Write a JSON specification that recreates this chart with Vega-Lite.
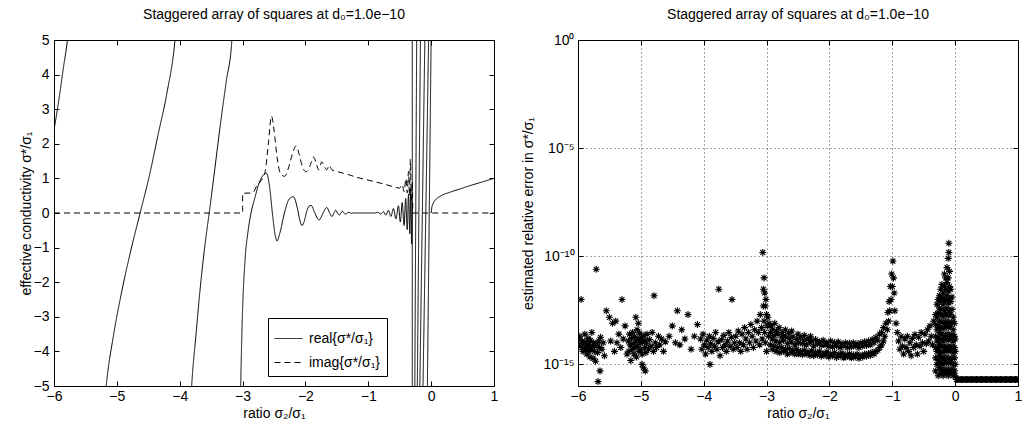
{
"$schema": "https://vega.github.io/schema/vega-lite/v6.json",
"background": "white",
"padding": {"left": 18, "top": 7, "right": 0, "bottom": 0},
"spacing": 22,
"config": {
  "font": "Liberation Sans",
  "view": {"stroke": "black", "strokeWidth": 1},
  "axis": {"labelFont": "Liberation Sans", "labelFontSize": 14, "labelColor": "black", "titleFont": "Liberation Sans", "titleFontSize": 14, "titleFontWeight": "normal", "titleColor": "black", "domain": false, "tickColor": "black", "tickSize": -5, "grid": false, "labelFlush": false, "labelOverlap": false},
  "title": {"font": "Liberation Sans", "fontSize": 14, "fontWeight": "normal", "color": "black", "offset": 11, "anchor": "middle"}
},
"datasets": {
  "curves": [
    {"r":-6,"v":2.4,"p":"real{σ*/σ₁}","b":"A"},{"r":-5.95,"v":2.95,"p":"real{σ*/σ₁}","b":"A"},{"r":-5.9,"v":3.55,"p":"real{σ*/σ₁}","b":"A"},{"r":-5.85,"v":4.2,"p":"real{σ*/σ₁}","b":"A"},{"r":-5.8,"v":4.8,"p":"real{σ*/σ₁}","b":"A"},{"r":-5.76,"v":5.4,"p":"real{σ*/σ₁}","b":"A"},
    {"r":-5.22,"v":-6,"p":"real{σ*/σ₁}","b":"B"},{"r":-5.17,"v":-5,"p":"real{σ*/σ₁}","b":"B"},{"r":-5.05,"v":-3.5,"p":"real{σ*/σ₁}","b":"B"},{"r":-4.92,"v":-2.25,"p":"real{σ*/σ₁}","b":"B"},{"r":-4.78,"v":-1.1,"p":"real{σ*/σ₁}","b":"B"},{"r":-4.63,"v":0,"p":"real{σ*/σ₁}","b":"B"},{"r":-4.48,"v":1.1,"p":"real{σ*/σ₁}","b":"B"},{"r":-4.34,"v":2.3,"p":"real{σ*/σ₁}","b":"B"},{"r":-4.2,"v":3.5,"p":"real{σ*/σ₁}","b":"B"},{"r":-4.075,"v":5,"p":"real{σ*/σ₁}","b":"B"},{"r":-4.03,"v":6,"p":"real{σ*/σ₁}","b":"B"},
    {"r":-3.84,"v":-6,"p":"real{σ*/σ₁}","b":"C"},{"r":-3.81,"v":-5,"p":"real{σ*/σ₁}","b":"C"},{"r":-3.74,"v":-3.5,"p":"real{σ*/σ₁}","b":"C"},{"r":-3.67,"v":-2.1,"p":"real{σ*/σ₁}","b":"C"},{"r":-3.6,"v":-0.95,"p":"real{σ*/σ₁}","b":"C"},{"r":-3.52,"v":0.15,"p":"real{σ*/σ₁}","b":"C"},{"r":-3.44,"v":1.3,"p":"real{σ*/σ₁}","b":"C"},{"r":-3.35,"v":2.6,"p":"real{σ*/σ₁}","b":"C"},{"r":-3.26,"v":3.8,"p":"real{σ*/σ₁}","b":"C"},{"r":-3.17,"v":5,"p":"real{σ*/σ₁}","b":"C"},{"r":-3.14,"v":6,"p":"real{σ*/σ₁}","b":"C"},
    {"r":-3.04,"v":-6,"p":"real{σ*/σ₁}","b":"D"},{"r":-3.03,"v":-5,"p":"real{σ*/σ₁}","b":"D"},{"r":-3.01,"v":-3.4,"p":"real{σ*/σ₁}","b":"D"},{"r":-2.96,"v":-1.34,"p":"real{σ*/σ₁}","b":"D"},{"r":-2.915,"v":-0.56,"p":"real{σ*/σ₁}","b":"D"},{"r":-2.86,"v":0.05,"p":"real{σ*/σ₁}","b":"D"},{"r":-2.81,"v":0.4,"p":"real{σ*/σ₁}","b":"D"},{"r":-2.74,"v":0.85,"p":"real{σ*/σ₁}","b":"D"},{"r":-2.67,"v":1.1,"p":"real{σ*/σ₁}","b":"D"},{"r":-2.62,"v":1.15,"p":"real{σ*/σ₁}","b":"D"},{"r":-2.57,"v":0.75,"p":"real{σ*/σ₁}","b":"D"},{"r":-2.52,"v":-0.1,"p":"real{σ*/σ₁}","b":"D"},{"r":-2.48,"v":-0.65,"p":"real{σ*/σ₁}","b":"D"},{"r":-2.45,"v":-0.81,"p":"real{σ*/σ₁}","b":"D"},{"r":-2.41,"v":-0.6,"p":"real{σ*/σ₁}","b":"D"},{"r":-2.32,"v":0.1,"p":"real{σ*/σ₁}","b":"D"},{"r":-2.26,"v":0.4,"p":"real{σ*/σ₁}","b":"D"},{"r":-2.19,"v":0.47,"p":"real{σ*/σ₁}","b":"D"},{"r":-2.13,"v":0.15,"p":"real{σ*/σ₁}","b":"D"},{"r":-2.09,"v":-0.2,"p":"real{σ*/σ₁}","b":"D"},{"r":-2.055,"v":-0.36,"p":"real{σ*/σ₁}","b":"D"},{"r":-2.02,"v":-0.25,"p":"real{σ*/σ₁}","b":"D"},{"r":-1.98,"v":0.05,"p":"real{σ*/σ₁}","b":"D"},{"r":-1.94,"v":0.2,"p":"real{σ*/σ₁}","b":"D"},{"r":-1.91,"v":0.22,"p":"real{σ*/σ₁}","b":"D"},{"r":-1.85,"v":0,"p":"real{σ*/σ₁}","b":"D"},{"r":-1.8,"v":-0.18,"p":"real{σ*/σ₁}","b":"D"},{"r":-1.78,"v":-0.2,"p":"real{σ*/σ₁}","b":"D"},{"r":-1.72,"v":0,"p":"real{σ*/σ₁}","b":"D"},{"r":-1.66,"v":0.16,"p":"real{σ*/σ₁}","b":"D"},{"r":-1.62,"v":0.02,"p":"real{σ*/σ₁}","b":"D"},{"r":-1.58,"v":-0.1,"p":"real{σ*/σ₁}","b":"D"},{"r":-1.545,"v":0,"p":"real{σ*/σ₁}","b":"D"},{"r":-1.52,"v":0.08,"p":"real{σ*/σ₁}","b":"D"},{"r":-1.49,"v":0,"p":"real{σ*/σ₁}","b":"D"},{"r":-1.46,"v":-0.06,"p":"real{σ*/σ₁}","b":"D"},{"r":-1.435,"v":0,"p":"real{σ*/σ₁}","b":"D"},{"r":-1.41,"v":0.05,"p":"real{σ*/σ₁}","b":"D"},{"r":-1.385,"v":0,"p":"real{σ*/σ₁}","b":"D"},{"r":-1.36,"v":-0.035,"p":"real{σ*/σ₁}","b":"D"},{"r":-1.335,"v":0,"p":"real{σ*/σ₁}","b":"D"},{"r":-1.31,"v":0.022,"p":"real{σ*/σ₁}","b":"D"},{"r":-1.285,"v":0,"p":"real{σ*/σ₁}","b":"D"},{"r":-1.26,"v":-0.012,"p":"real{σ*/σ₁}","b":"D"},{"r":-1.23,"v":0.006,"p":"real{σ*/σ₁}","b":"D"},{"r":-1.2,"v":0,"p":"real{σ*/σ₁}","b":"D"},{"r":-0.9,"v":0,"p":"real{σ*/σ₁}","b":"D"},{"r":-0.85,"v":0.02,"p":"real{σ*/σ₁}","b":"D"},{"r":-0.8,"v":-0.03,"p":"real{σ*/σ₁}","b":"D"},{"r":-0.76,"v":0.04,"p":"real{σ*/σ₁}","b":"D"},{"r":-0.72,"v":-0.06,"p":"real{σ*/σ₁}","b":"D"},{"r":-0.68,"v":0.08,"p":"real{σ*/σ₁}","b":"D"},{"r":-0.64,"v":-0.1,"p":"real{σ*/σ₁}","b":"D"},{"r":-0.6,"v":0.13,"p":"real{σ*/σ₁}","b":"D"},{"r":-0.56,"v":-0.17,"p":"real{σ*/σ₁}","b":"D"},{"r":-0.52,"v":0.21,"p":"real{σ*/σ₁}","b":"D"},{"r":-0.49,"v":-0.26,"p":"real{σ*/σ₁}","b":"D"},{"r":-0.46,"v":0.3,"p":"real{σ*/σ₁}","b":"D"},{"r":-0.43,"v":-0.36,"p":"real{σ*/σ₁}","b":"D"},{"r":-0.405,"v":0.42,"p":"real{σ*/σ₁}","b":"D"},{"r":-0.38,"v":-0.48,"p":"real{σ*/σ₁}","b":"D"},{"r":-0.36,"v":0.55,"p":"real{σ*/σ₁}","b":"D"},{"r":-0.34,"v":-0.6,"p":"real{σ*/σ₁}","b":"D"},{"r":-0.325,"v":0.7,"p":"real{σ*/σ₁}","b":"D"},{"r":-0.31,"v":-0.9,"p":"real{σ*/σ₁}","b":"D"},{"r":-0.302,"v":0.3,"p":"real{σ*/σ₁}","b":"D"},
    {"r":-0.3,"v":-5.05,"p":"real{σ*/σ₁}","b":"P1"},{"r":-0.3,"v":5.05,"p":"real{σ*/σ₁}","b":"P1"},
    {"r":-0.26,"v":-5.05,"p":"real{σ*/σ₁}","b":"P2"},{"r":-0.23,"v":5.05,"p":"real{σ*/σ₁}","b":"P2"},
    {"r":-0.22,"v":-5.05,"p":"real{σ*/σ₁}","b":"P3"},{"r":-0.17,"v":5.05,"p":"real{σ*/σ₁}","b":"P3"},
    {"r":-0.18,"v":-5.05,"p":"real{σ*/σ₁}","b":"P4"},{"r":-0.1,"v":5.05,"p":"real{σ*/σ₁}","b":"P4"},
    {"r":-0.13,"v":-5.05,"p":"real{σ*/σ₁}","b":"P5"},{"r":-0.04,"v":5.05,"p":"real{σ*/σ₁}","b":"P5"},
    {"r":-0.06,"v":-5.05,"p":"real{σ*/σ₁}","b":"P6"},{"r":0.0,"v":5.05,"p":"real{σ*/σ₁}","b":"P6"},
    {"r":0.0,"v":0,"p":"real{σ*/σ₁}","b":"E"},{"r":0.01,"v":0.15,"p":"real{σ*/σ₁}","b":"E"},{"r":0.03,"v":0.27,"p":"real{σ*/σ₁}","b":"E"},{"r":0.07,"v":0.38,"p":"real{σ*/σ₁}","b":"E"},{"r":0.15,"v":0.49,"p":"real{σ*/σ₁}","b":"E"},{"r":0.3,"v":0.6,"p":"real{σ*/σ₁}","b":"E"},{"r":0.45,"v":0.69,"p":"real{σ*/σ₁}","b":"E"},{"r":0.6,"v":0.78,"p":"real{σ*/σ₁}","b":"E"},{"r":0.8,"v":0.89,"p":"real{σ*/σ₁}","b":"E"},{"r":1.0,"v":1.0,"p":"real{σ*/σ₁}","b":"E"},
    {"r":-6,"v":0,"p":"imag{σ*/σ₁}","b":"I"},{"r":-3.0,"v":0,"p":"imag{σ*/σ₁}","b":"I"},{"r":-2.999,"v":0.57,"p":"imag{σ*/σ₁}","b":"I"},{"r":-2.84,"v":0.58,"p":"imag{σ*/σ₁}","b":"I"},{"r":-2.77,"v":0.8,"p":"imag{σ*/σ₁}","b":"I"},{"r":-2.7,"v":0.95,"p":"imag{σ*/σ₁}","b":"I"},{"r":-2.64,"v":1.2,"p":"imag{σ*/σ₁}","b":"I"},{"r":-2.59,"v":2.0,"p":"imag{σ*/σ₁}","b":"I"},{"r":-2.54,"v":2.8,"p":"imag{σ*/σ₁}","b":"I"},{"r":-2.5,"v":2.4,"p":"imag{σ*/σ₁}","b":"I"},{"r":-2.45,"v":1.6,"p":"imag{σ*/σ₁}","b":"I"},{"r":-2.4,"v":1.15,"p":"imag{σ*/σ₁}","b":"I"},{"r":-2.33,"v":1.06,"p":"imag{σ*/σ₁}","b":"I"},{"r":-2.27,"v":1.3,"p":"imag{σ*/σ₁}","b":"I"},{"r":-2.2,"v":1.75,"p":"imag{σ*/σ₁}","b":"I"},{"r":-2.15,"v":1.94,"p":"imag{σ*/σ₁}","b":"I"},{"r":-2.1,"v":1.7,"p":"imag{σ*/σ₁}","b":"I"},{"r":-2.05,"v":1.35,"p":"imag{σ*/σ₁}","b":"I"},{"r":-1.99,"v":1.19,"p":"imag{σ*/σ₁}","b":"I"},{"r":-1.93,"v":1.35,"p":"imag{σ*/σ₁}","b":"I"},{"r":-1.87,"v":1.62,"p":"imag{σ*/σ₁}","b":"I"},{"r":-1.83,"v":1.45,"p":"imag{σ*/σ₁}","b":"I"},{"r":-1.79,"v":1.25,"p":"imag{σ*/σ₁}","b":"I"},{"r":-1.74,"v":1.48,"p":"imag{σ*/σ₁}","b":"I"},{"r":-1.7,"v":1.35,"p":"imag{σ*/σ₁}","b":"I"},{"r":-1.66,"v":1.25,"p":"imag{σ*/σ₁}","b":"I"},{"r":-1.62,"v":1.38,"p":"imag{σ*/σ₁}","b":"I"},{"r":-1.58,"v":1.25,"p":"imag{σ*/σ₁}","b":"I"},{"r":-1.5,"v":1.2,"p":"imag{σ*/σ₁}","b":"I"},{"r":-1.4,"v":1.15,"p":"imag{σ*/σ₁}","b":"I"},{"r":-1.3,"v":1.1,"p":"imag{σ*/σ₁}","b":"I"},{"r":-1.2,"v":1.04,"p":"imag{σ*/σ₁}","b":"I"},{"r":-1.0,"v":0.95,"p":"imag{σ*/σ₁}","b":"I"},{"r":-0.8,"v":0.86,"p":"imag{σ*/σ₁}","b":"I"},{"r":-0.6,"v":0.76,"p":"imag{σ*/σ₁}","b":"I"},{"r":-0.5,"v":0.72,"p":"imag{σ*/σ₁}","b":"I"},{"r":-0.46,"v":0.82,"p":"imag{σ*/σ₁}","b":"I"},{"r":-0.43,"v":0.62,"p":"imag{σ*/σ₁}","b":"I"},{"r":-0.4,"v":1.0,"p":"imag{σ*/σ₁}","b":"I"},{"r":-0.38,"v":0.58,"p":"imag{σ*/σ₁}","b":"I"},{"r":-0.36,"v":1.2,"p":"imag{σ*/σ₁}","b":"I"},{"r":-0.345,"v":0.5,"p":"imag{σ*/σ₁}","b":"I"},{"r":-0.33,"v":1.55,"p":"imag{σ*/σ₁}","b":"I"},{"r":-0.315,"v":0.3,"p":"imag{σ*/σ₁}","b":"I"},{"r":-0.3,"v":0.9,"p":"imag{σ*/σ₁}","b":"I"},{"r":-0.29,"v":0,"p":"imag{σ*/σ₁}","b":"I"},{"r":1.0,"v":0,"p":"imag{σ*/σ₁}","b":"I"}
  ],
  "errs": [
    {"r":-5.99,"e":1.5e-14},{"r":-5.98,"e":8e-15},{"r":-5.97,"e":2e-14},{"r":-5.95,"e":1e-12},{"r":-5.94,"e":6e-15},{"r":-5.93,"e":1.2e-14},{"r":-5.92,"e":4e-15},{"r":-5.9,"e":9e-15},{"r":-5.89,"e":2.5e-14},{"r":-5.88,"e":5e-15},{"r":-5.87,"e":1.1e-14},{"r":-5.86,"e":3e-15},{"r":-5.85,"e":7e-15},{"r":-5.84,"e":1.6e-14},{"r":-5.83,"e":4e-15},{"r":-5.82,"e":8e-15},{"r":-5.81,"e":2.2e-15},{"r":-5.8,"e":1.3e-14},{"r":-5.79,"e":5e-15},{"r":-5.78,"e":3e-14},{"r":-5.77,"e":6e-15},{"r":-5.76,"e":1.9e-15},{"r":-5.75,"e":1e-14},{"r":-5.74,"e":4e-15},{"r":-5.73,"e":7e-15},{"r":-5.72,"e":1.4e-15},{"r":-5.71,"e":2.5e-11},{"r":-5.7,"e":9e-15},{"r":-5.69,"e":3.5e-15},{"r":-5.68,"e":1.6e-16},{"r":-5.67,"e":1.2e-14},{"r":-5.66,"e":6e-15},{"r":-5.65,"e":5e-16},{"r":-5.64,"e":1.8e-14},{"r":-5.62,"e":5e-15},{"r":-5.6,"e":1e-14},{"r":-5.58,"e":2.5e-15},
    {"r":-5.55,"e":3e-13},{"r":-5.5,"e":1.5e-13},{"r":-5.45,"e":8e-14},{"r":-5.4,"e":1e-13},{"r":-5.35,"e":2.5e-14},{"r":-5.3,"e":1e-12},{"r":-5.25,"e":6e-14},{"r":-5.48,"e":1.2e-14},{"r":-5.42,"e":4e-15},{"r":-5.38,"e":1e-14},{"r":-5.32,"e":6e-15},{"r":-5.28,"e":1.5e-14},{"r":-5.22,"e":3e-15},
    {"r":-5.2,"e":1.2e-14},{"r":-5.19,"e":4e-15},{"r":-5.18,"e":2.5e-14},{"r":-5.17,"e":8e-15},{"r":-5.16,"e":1.5e-15},{"r":-5.15,"e":1.6e-14},{"r":-5.14,"e":5e-15},{"r":-5.13,"e":3e-14},{"r":-5.12,"e":9e-15},{"r":-5.11,"e":3e-15},{"r":-5.1,"e":2e-14},{"r":-5.09,"e":6e-15},{"r":-5.08,"e":1.2e-14},{"r":-5.08,"e":1.5e-13},{"r":-5.07,"e":2.2e-15},{"r":-5.06,"e":4e-14},{"r":-5.05,"e":7e-15},{"r":-5.04,"e":1.5e-14},{"r":-5.04,"e":8e-14},{"r":-5.03,"e":4e-15},{"r":-5.02,"e":2.8e-14},{"r":-5.01,"e":1e-14},{"r":-5.0,"e":5e-15},{"r":-4.99,"e":1.8e-14},{"r":-4.98,"e":3e-15},{"r":-4.98,"e":1e-15},{"r":-4.97,"e":1.1e-14},{"r":-4.96,"e":7e-16},{"r":-4.95,"e":2.2e-14},{"r":-4.94,"e":6e-15},{"r":-4.93,"e":1.3e-14},{"r":-4.93,"e":5e-16},{"r":-4.92,"e":3.5e-15},{"r":-4.91,"e":9e-15},{"r":-4.9,"e":2.5e-14},{"r":-4.88,"e":5e-15},{"r":-4.86,"e":1.4e-14},{"r":-4.84,"e":7e-15},{"r":-4.82,"e":3e-14},{"r":-4.8,"e":4e-15},{"r":-4.79,"e":1.5e-12},{"r":-4.77,"e":1e-14},{"r":-4.75,"e":6e-15},{"r":-4.72,"e":2e-14},{"r":-4.7,"e":8e-15},{"r":-4.67,"e":1.5e-14},{"r":-4.64,"e":4e-15},{"r":-4.61,"e":1.1e-14},
    {"r":-4.55,"e":2e-14},{"r":-4.5,"e":6e-14},{"r":-4.45,"e":1e-14},{"r":-4.42,"e":3e-13},{"r":-4.38,"e":8e-15},{"r":-4.35,"e":4e-14},{"r":-4.3,"e":1.5e-14},{"r":-4.25,"e":2e-13},{"r":-4.2,"e":5e-15},{"r":-4.15,"e":2e-14},{"r":-4.1,"e":7e-14},
    {"r":-4.05,"e":1.5e-14},{"r":-4.03,"e":5e-15},{"r":-4.01,"e":2.5e-14},{"r":-3.99,"e":8e-15},{"r":-3.97,"e":3e-15},{"r":-3.95,"e":1.3e-14},{"r":-3.93,"e":6e-15},{"r":-3.91,"e":2e-14},{"r":-3.9,"e":1e-15},{"r":-3.89,"e":9e-15},{"r":-3.87,"e":4e-15},{"r":-3.85,"e":1.6e-14},{"r":-3.83,"e":7e-15},{"r":-3.81,"e":3e-14},{"r":-3.79,"e":5e-15},{"r":-3.77,"e":1.1e-14},{"r":-3.76,"e":3e-12},{"r":-3.74,"e":2.5e-15},{"r":-3.72,"e":1.4e-14},{"r":-3.7,"e":6e-15},{"r":-3.68,"e":2.2e-14},{"r":-3.66,"e":8e-15},{"r":-3.64,"e":4e-15},{"r":-3.62,"e":1.2e-14},{"r":-3.6,"e":3e-14},{"r":-3.58,"e":7e-15},{"r":-3.56,"e":1.8e-14},{"r":-3.55,"e":1e-12},{"r":-3.53,"e":5e-15},{"r":-3.51,"e":1e-14},
    {"r":-3.49,"e":2e-14},{"r":-3.47,"e":6e-15},{"r":-3.45,"e":3.5e-14},{"r":-3.43,"e":1e-14},{"r":-3.41,"e":4e-15},{"r":-3.39,"e":2.5e-14},{"r":-3.37,"e":8e-15},{"r":-3.35,"e":5e-14},{"r":-3.33,"e":1.5e-14},{"r":-3.31,"e":5e-15},{"r":-3.29,"e":3e-14},{"r":-3.27,"e":1e-14},{"r":-3.25,"e":7e-14},{"r":-3.23,"e":2e-14},{"r":-3.21,"e":6e-15},{"r":-3.19,"e":4e-14},{"r":-3.17,"e":1.2e-14},{"r":-3.15,"e":1e-13},{"r":-3.13,"e":3e-14},{"r":-3.11,"e":8e-15},{"r":-3.1,"e":2e-13},{"r":-3.08,"e":5e-14},{"r":-3.07,"e":1.5e-14},{"r":-3.06,"e":1.5e-10},{"r":-3.05,"e":3e-12},{"r":-3.05,"e":5e-13},{"r":-3.04,"e":1e-11},{"r":-3.04,"e":1e-13},{"r":-3.03,"e":2e-12},{"r":-3.03,"e":3e-14},{"r":-3.02,"e":5e-13},{"r":-3.02,"e":1e-14},{"r":-3.01,"e":1e-12},{"r":-3.0,"e":2e-13},{"r":-3.0,"e":4e-15},{"r":-2.99,"e":6e-14},{"r":-2.98,"e":1.5e-13},{"r":-2.97,"e":2e-14},{"r":-2.96,"e":8e-14},
    {"r":-2.94,"e":3e-14},{"r":-2.94,"e":8e-15},{"r":-2.93,"e":6e-14},{"r":-2.91,"e":1.5e-14},{"r":-2.91,"e":5e-15},{"r":-2.9,"e":4e-14},{"r":-2.88,"e":2.2e-14},{"r":-2.88,"e":7e-15},{"r":-2.87,"e":8e-14},{"r":-2.85,"e":1.2e-14},{"r":-2.85,"e":4e-15},{"r":-2.84,"e":3.5e-14},{"r":-2.82,"e":2.5e-14},{"r":-2.82,"e":6e-15},{"r":-2.8,"e":5e-14},{"r":-2.79,"e":1e-14},{"r":-2.79,"e":3.5e-15},{"r":-2.76,"e":1.8e-14},{"r":-2.76,"e":6e-15},{"r":-2.75,"e":3e-14},{"r":-2.73,"e":1.3e-14},{"r":-2.73,"e":4e-15},{"r":-2.7,"e":2e-14},{"r":-2.7,"e":5e-15},{"r":-2.7,"e":4e-14},{"r":-2.67,"e":9e-15},{"r":-2.67,"e":3e-15},{"r":-2.65,"e":2.8e-14},{"r":-2.64,"e":1.6e-14},{"r":-2.64,"e":5.5e-15},{"r":-2.61,"e":1.1e-14},{"r":-2.61,"e":3.5e-15},{"r":-2.6,"e":3.5e-14},{"r":-2.58,"e":1.9e-14},{"r":-2.58,"e":4.5e-15},{"r":-2.55,"e":8e-15},{"r":-2.55,"e":3e-15},{"r":-2.52,"e":1.4e-14},{"r":-2.52,"e":5e-15},{"r":-2.5,"e":2.5e-14},{"r":-2.49,"e":1e-14},{"r":-2.49,"e":3e-15},{"r":-2.46,"e":1.7e-14},{"r":-2.46,"e":4e-15},{"r":-2.43,"e":9e-15},{"r":-2.43,"e":2.8e-15},{"r":-2.4,"e":1.3e-14},{"r":-2.4,"e":4.5e-15},{"r":-2.4,"e":2.2e-14},{"r":-2.37,"e":8e-15},{"r":-2.37,"e":3e-15},{"r":-2.34,"e":1.5e-14},{"r":-2.34,"e":3.8e-15},{"r":-2.31,"e":1e-14},{"r":-2.31,"e":2.6e-15},{"r":-2.3,"e":2e-14},{"r":-2.28,"e":1.2e-14},{"r":-2.28,"e":4.2e-15},{"r":-2.25,"e":7e-15},{"r":-2.25,"e":2.5e-15},{"r":-2.22,"e":1.4e-14},{"r":-2.22,"e":3.5e-15},{"r":-2.19,"e":9e-15},{"r":-2.19,"e":2.8e-15},{"r":-2.16,"e":1.1e-14},{"r":-2.16,"e":4e-15},{"r":-2.13,"e":7.5e-15},{"r":-2.13,"e":2.4e-15},{"r":-2.1,"e":1.3e-14},{"r":-2.1,"e":3.2e-15},{"r":-2.07,"e":8e-15},{"r":-2.07,"e":2.6e-15},{"r":-2.04,"e":1e-14},{"r":-2.04,"e":3.8e-15},{"r":-2.01,"e":7e-15},{"r":-2.01,"e":2.2e-15},{"r":-1.98,"e":1.2e-14},{"r":-1.98,"e":3e-15},{"r":-1.95,"e":6.5e-15},{"r":-1.95,"e":2.5e-15},{"r":-1.92,"e":1e-14},{"r":-1.92,"e":3.5e-15},{"r":-1.89,"e":7e-15},{"r":-1.89,"e":2.1e-15},{"r":-1.86,"e":1.1e-14},{"r":-1.86,"e":2.9e-15},{"r":-1.83,"e":6e-15},{"r":-1.83,"e":2.4e-15},{"r":-1.8,"e":9e-15},{"r":-1.8,"e":3.3e-15},{"r":-1.77,"e":7e-15},{"r":-1.77,"e":2e-15},{"r":-1.74,"e":1e-14},{"r":-1.74,"e":2.8e-15},{"r":-1.71,"e":6e-15},{"r":-1.71,"e":2.3e-15},{"r":-1.68,"e":9.5e-15},{"r":-1.68,"e":3.1e-15},{"r":-1.65,"e":6.5e-15},{"r":-1.65,"e":2e-15},{"r":-1.62,"e":1e-14},{"r":-1.62,"e":2.7e-15},{"r":-1.59,"e":7e-15},{"r":-1.59,"e":2.2e-15},{"r":-1.56,"e":9e-15},{"r":-1.56,"e":3e-15},{"r":-1.53,"e":6e-15},{"r":-1.53,"e":1.9e-15},{"r":-1.5,"e":1e-14},{"r":-1.5,"e":2.6e-15},{"r":-1.47,"e":7e-15},{"r":-1.47,"e":2.2e-15},{"r":-1.44,"e":1.1e-14},{"r":-1.44,"e":3e-15},{"r":-1.41,"e":7.5e-15},{"r":-1.41,"e":2.4e-15},{"r":-1.38,"e":1.2e-14},{"r":-1.38,"e":3.2e-15},{"r":-1.35,"e":8e-15},{"r":-1.35,"e":2.6e-15},{"r":-1.32,"e":1.4e-14},{"r":-1.32,"e":3.6e-15},{"r":-1.29,"e":1e-14},{"r":-1.29,"e":3e-15},{"r":-1.26,"e":1.8e-14},{"r":-1.26,"e":4e-15},{"r":-1.23,"e":1.3e-14},{"r":-1.23,"e":4.5e-15},{"r":-1.2,"e":2.5e-14},{"r":-1.2,"e":6e-15},{"r":-1.17,"e":3e-14},{"r":-1.17,"e":8e-15},{"r":-1.14,"e":5e-14},{"r":-1.14,"e":1.2e-14},
    {"r":-1.12,"e":2e-14},{"r":-1.1,"e":8e-14},{"r":-1.08,"e":4e-14},{"r":-1.07,"e":2.5e-13},{"r":-1.06,"e":1e-13},{"r":-1.05,"e":8e-13},{"r":-1.04,"e":3e-13},{"r":-1.03,"e":4e-12},{"r":-1.02,"e":1e-12},{"r":-1.01,"e":1.5e-11},{"r":-1.0,"e":4e-12},{"r":-0.99,"e":6e-11},{"r":-0.98,"e":1e-11},{"r":-0.97,"e":2e-12},
    {"r":-0.96,"e":3e-13},{"r":-0.94,"e":8e-14},{"r":-0.92,"e":3e-14},{"r":-0.9,"e":1.2e-14},{"r":-0.88,"e":5e-15},{"r":-0.86,"e":2e-14},{"r":-0.84,"e":7e-15},{"r":-0.82,"e":3e-15},{"r":-0.8,"e":1.5e-14},{"r":-0.78,"e":6e-15},{"r":-0.76,"e":2e-14},{"r":-0.74,"e":4e-15},{"r":-0.72,"e":1e-14},{"r":-0.7,"e":2.5e-15},{"r":-0.68,"e":1.6e-14},{"r":-0.66,"e":6e-15},{"r":-0.64,"e":2.4e-14},{"r":-0.62,"e":8e-15},{"r":-0.6,"e":3e-15},{"r":-0.58,"e":1.8e-14},{"r":-0.56,"e":7e-15},{"r":-0.54,"e":3e-14},{"r":-0.52,"e":1e-14},{"r":-0.5,"e":4e-15},{"r":-0.48,"e":2.5e-14},{"r":-0.46,"e":9e-15},{"r":-0.44,"e":4e-14},{"r":-0.42,"e":1.2e-14},{"r":-0.4,"e":6e-14},{"r":-0.38,"e":2e-14},{"r":-0.36,"e":8e-15},{"r":-0.34,"e":1e-13},
    {"r":-0.31,"e":5e-16},{"r":-0.31,"e":2e-15},{"r":-0.31,"e":6e-15},{"r":-0.31,"e":2e-14},{"r":-0.31,"e":7e-14},{"r":-0.31,"e":2e-13},
    {"r":-0.29,"e":1e-15},{"r":-0.29,"e":4e-15},{"r":-0.29,"e":1.2e-14},{"r":-0.29,"e":4e-14},{"r":-0.29,"e":1.5e-13},{"r":-0.29,"e":6e-13},
    {"r":-0.27,"e":3e-16},{"r":-0.27,"e":1.5e-15},{"r":-0.27,"e":5e-15},{"r":-0.27,"e":1.8e-14},{"r":-0.27,"e":6e-14},{"r":-0.27,"e":2.5e-13},{"r":-0.27,"e":1e-12},
    {"r":-0.25,"e":7e-16},{"r":-0.25,"e":2.5e-15},{"r":-0.25,"e":8e-15},{"r":-0.25,"e":3e-14},{"r":-0.25,"e":1e-13},{"r":-0.25,"e":4e-13},{"r":-0.25,"e":1.5e-12},
    {"r":-0.23,"e":4e-16},{"r":-0.23,"e":1.2e-15},{"r":-0.23,"e":4e-15},{"r":-0.23,"e":1.4e-14},{"r":-0.23,"e":5e-14},{"r":-0.23,"e":2e-13},{"r":-0.23,"e":8e-13},{"r":-0.23,"e":3e-12},
    {"r":-0.21,"e":6e-16},{"r":-0.21,"e":2e-15},{"r":-0.21,"e":7e-15},{"r":-0.21,"e":2.5e-14},{"r":-0.21,"e":9e-14},{"r":-0.21,"e":3.5e-13},{"r":-0.21,"e":1.2e-12},{"r":-0.21,"e":5e-12},
    {"r":-0.19,"e":3e-16},{"r":-0.19,"e":1e-15},{"r":-0.19,"e":3.5e-15},{"r":-0.19,"e":1.2e-14},{"r":-0.19,"e":4.5e-14},{"r":-0.19,"e":1.6e-13},{"r":-0.19,"e":6e-13},{"r":-0.19,"e":2e-12},
    {"r":-0.17,"e":5e-16},{"r":-0.17,"e":1.8e-15},{"r":-0.17,"e":6e-15},{"r":-0.17,"e":2e-14},{"r":-0.17,"e":8e-14},{"r":-0.17,"e":3e-13},{"r":-0.17,"e":1e-12},{"r":-0.17,"e":4e-12},{"r":-0.17,"e":1.5e-11},
    {"r":-0.15,"e":4e-16},{"r":-0.15,"e":1.4e-15},{"r":-0.15,"e":5e-15},{"r":-0.15,"e":1.6e-14},{"r":-0.15,"e":6e-14},{"r":-0.15,"e":2.2e-13},{"r":-0.15,"e":9e-13},{"r":-0.15,"e":3e-12},{"r":-0.15,"e":1e-11},
    {"r":-0.13,"e":6e-16},{"r":-0.13,"e":2.2e-15},{"r":-0.13,"e":7e-15},{"r":-0.13,"e":2.6e-14},{"r":-0.13,"e":1e-13},{"r":-0.13,"e":4e-13},{"r":-0.13,"e":1.5e-12},{"r":-0.13,"e":6e-12},{"r":-0.13,"e":3e-11},
    {"r":-0.11,"e":3e-16},{"r":-0.11,"e":1.1e-15},{"r":-0.11,"e":4e-15},{"r":-0.11,"e":1.3e-14},{"r":-0.11,"e":5e-14},{"r":-0.11,"e":1.8e-13},{"r":-0.11,"e":7e-13},{"r":-0.11,"e":2.5e-12},{"r":-0.11,"e":1e-11},{"r":-0.11,"e":8e-11},
    {"r":-0.1,"e":4e-10},{"r":-0.1,"e":1.5e-10},
    {"r":-0.09,"e":5e-16},{"r":-0.09,"e":1.7e-15},{"r":-0.09,"e":6e-15},{"r":-0.09,"e":2.2e-14},{"r":-0.09,"e":8e-14},{"r":-0.09,"e":3e-13},{"r":-0.09,"e":1.1e-12},{"r":-0.09,"e":4e-12},{"r":-0.09,"e":2e-11},
    {"r":-0.07,"e":4e-16},{"r":-0.07,"e":1.3e-15},{"r":-0.07,"e":4.5e-15},{"r":-0.07,"e":1.5e-14},{"r":-0.07,"e":5.5e-14},{"r":-0.07,"e":2e-13},{"r":-0.07,"e":8e-13},{"r":-0.07,"e":3e-12},
    {"r":-0.05,"e":6e-16},{"r":-0.05,"e":2e-15},{"r":-0.05,"e":7e-15},{"r":-0.05,"e":2.4e-14},{"r":-0.05,"e":9e-14},{"r":-0.05,"e":3.5e-13},{"r":-0.05,"e":1.3e-12},
    {"r":-0.03,"e":3e-16},{"r":-0.03,"e":1e-15},{"r":-0.03,"e":3.5e-15},{"r":-0.03,"e":1.2e-14},{"r":-0.03,"e":4e-14},{"r":-0.03,"e":1.5e-13},
    {"r":-0.01,"e":5e-16},{"r":-0.01,"e":2e-15},{"r":-0.01,"e":6e-15},{"r":-0.01,"e":2e-14},{"r":-0.01,"e":8e-14},
    {"r":0.0,"e":3e-16},{"r":0.0,"e":1e-15},{"r":0.0,"e":4e-15},{"r":0.0,"e":1.5e-14},
    {"r":0.02,"e":2e-16},{"r":0.04,"e":2e-16},{"r":0.06,"e":2e-16},{"r":0.08,"e":2e-16},{"r":0.1,"e":2e-16},{"r":0.12,"e":2e-16},{"r":0.14,"e":2e-16},{"r":0.16,"e":2e-16},{"r":0.18,"e":2e-16},{"r":0.2,"e":2e-16},{"r":0.22,"e":2e-16},{"r":0.24,"e":2e-16},{"r":0.26,"e":2e-16},{"r":0.28,"e":2e-16},{"r":0.3,"e":2e-16},{"r":0.32,"e":2e-16},{"r":0.34,"e":2e-16},{"r":0.36,"e":2e-16},{"r":0.38,"e":2e-16},{"r":0.4,"e":2e-16},{"r":0.42,"e":2e-16},{"r":0.44,"e":2e-16},{"r":0.46,"e":2e-16},{"r":0.48,"e":2e-16},{"r":0.5,"e":2e-16},{"r":0.52,"e":2e-16},{"r":0.54,"e":2e-16},{"r":0.56,"e":2e-16},{"r":0.58,"e":2e-16},{"r":0.6,"e":2e-16},{"r":0.62,"e":2e-16},{"r":0.64,"e":2e-16},{"r":0.66,"e":2e-16},{"r":0.68,"e":2e-16},{"r":0.7,"e":2e-16},{"r":0.72,"e":2e-16},{"r":0.74,"e":2e-16},{"r":0.76,"e":2e-16},{"r":0.78,"e":2e-16},{"r":0.8,"e":2e-16},{"r":0.82,"e":2e-16},{"r":0.84,"e":2e-16},{"r":0.86,"e":2e-16},{"r":0.88,"e":2e-16},{"r":0.9,"e":2e-16},{"r":0.92,"e":2e-16},{"r":0.94,"e":2e-16},{"r":0.96,"e":2e-16},{"r":0.98,"e":2e-16},{"r":1.0,"e":2e-16}
  ]
},
"hconcat": [
  {
    "width": 440, "height": 346,
    "title": {"text": "Staggered array of squares at d₀=1.0e−10"},
    "data": {"name": "curves"},
    "layer": [
      {
        "mark": {"type": "line", "color": "black", "strokeWidth": 1, "interpolate": "monotone", "clip": true},
        "encoding": {
          "x": {"field": "r", "type": "quantitative", "scale": {"domain": [-6, 1], "nice": false, "zero": false},
                "axis": {"orient": "bottom", "values": [-6,-5,-4,-3,-2,-1,0,1], "format": "d", "title": "ratio σ₂/σ₁", "labelPadding": 8, "titlePadding": 3}},
          "y": {"field": "v", "type": "quantitative", "scale": {"domain": [-5, 5], "nice": false},
                "axis": {"orient": "left", "values": [-5,-4,-3,-2,-1,0,1,2,3,4,5], "format": "d", "title": "effective conductivity σ*/σ₁", "labelPadding": 10, "titlePadding": 0}},
          "strokeDash": {"field": "p", "type": "nominal",
                "scale": {"domain": ["real{σ*/σ₁}", "imag{σ*/σ₁}"], "range": [[1, 0], [6, 4]]},
                "legend": {"orient": "none", "legendX": 214, "legendY": 278, "title": null, "strokeColor": "black", "fillColor": "white", "padding": 6, "symbolType": "stroke", "symbolSize": 784, "symbolStrokeColor": "black", "symbolStrokeWidth": 1, "labelFont": "Liberation Sans", "labelFontSize": 14, "labelColor": "black", "labelOffset": 6, "rowPadding": 2, "labelLimit": 200}},
          "detail": {"field": "b", "type": "nominal"}
        }
      },
      {
        "mark": {"type": "point", "opacity": 0, "clip": true},
        "encoding": {
          "x": {"field": "r", "type": "quantitative", "axis": {"orient": "top", "values": [-6,-5,-4,-3,-2,-1,0,1], "labels": false, "title": null}},
          "y": {"field": "v", "type": "quantitative", "axis": {"orient": "right", "values": [-5,-4,-3,-2,-1,0,1,2,3,4,5], "labels": false, "title": null}}
        }
      }
    ]
  },
  {
    "width": 440, "height": 346,
    "title": {"text": "Staggered array of squares at d₀=1.0e−10"},
    "data": {"name": "errs"},
    "layer": [
      {
        "mark": {"type": "point", "shape": "M0,-1L0,1M-1,0L1,0M-0.7,-0.7L0.7,0.7M-0.7,0.7L0.7,-0.7", "filled": false, "stroke": "black", "strokeWidth": 1.1, "size": 49, "opacity": 1, "clip": true},
        "encoding": {
          "x": {"field": "r", "type": "quantitative", "scale": {"domain": [-6, 1], "nice": false, "zero": false},
                "axis": {"orient": "bottom", "values": [-6,-5,-4,-3,-2,-1,0,1], "format": "d", "title": "ratio σ₂/σ₁", "labelPadding": 8, "titlePadding": 3, "grid": true, "gridColor": "black", "gridDash": [1, 3], "gridOpacity": 0.7}},
          "y": {"field": "e", "type": "quantitative", "scale": {"type": "log", "domain": [1e-16, 1], "nice": false},
                "axis": {"orient": "left", "values": [1, 1e-5, 1e-10, 1e-15], "labelExpr": "datum.value >= 0.5 ? '10⁰' : datum.value > 1e-7 ? '10⁻⁵' : datum.value > 1e-12 ? '10⁻¹⁰' : '10⁻¹⁵'", "title": "estimated relative error in σ*/σ₁", "labelPadding": 9, "titlePadding": 7, "grid": true, "gridColor": "black", "gridDash": [1, 3], "gridOpacity": 0.7}}
        }
      },
      {
        "mark": {"type": "point", "opacity": 0, "clip": true},
        "encoding": {
          "x": {"field": "r", "type": "quantitative", "axis": {"orient": "top", "values": [-6,-5,-4,-3,-2,-1,0,1], "labels": false, "title": null}},
          "y": {"field": "e", "type": "quantitative", "axis": {"orient": "right", "values": [1, 1e-5, 1e-10, 1e-15], "labels": false, "title": null}}
        }
      }
    ]
  }
]
}
